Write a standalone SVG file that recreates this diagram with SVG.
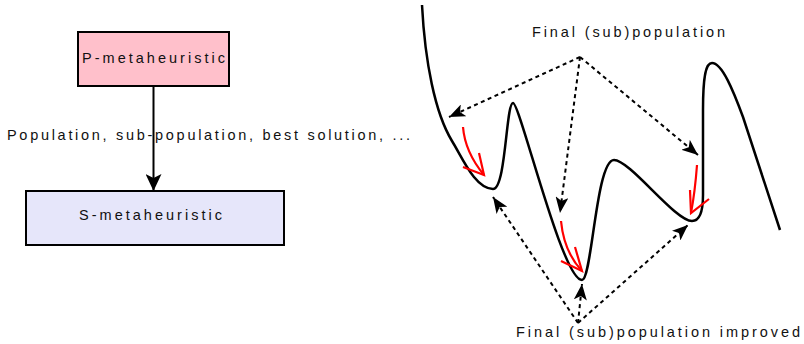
<svg xmlns="http://www.w3.org/2000/svg" width="804" height="344" viewBox="0 0 804 344">
<defs>
<style>
.box{stroke:#000;stroke-width:2}
.t{font-family:"Liberation Sans",Arial,sans-serif;font-size:14.5px;fill:#111}
.dash{fill:none;stroke:#000;stroke-width:2;stroke-dasharray:4 3.5;marker-end:url(#ah)}
.red{fill:none;stroke:#f00;stroke-width:2.2}
.land{fill:none;stroke:#000;stroke-width:2.5;stroke-linejoin:round}
</style>
<marker id="ah" viewBox="0 0 16 13" refX="16" refY="6.5" markerWidth="16" markerHeight="13" markerUnits="userSpaceOnUse" orient="auto">
<path d="M0,0 L16,6.5 L0,13 L4,6.5 Z" fill="#000"/>
</marker>
<marker id="ahs" viewBox="0 0 17 16" refX="17" refY="8" markerWidth="17" markerHeight="16" markerUnits="userSpaceOnUse" orient="auto">
<path d="M0,0 L17,8 L0,16 L4,8 Z" fill="#000"/>
</marker>
</defs>
<rect width="804" height="344" fill="#fff"/>
<g id="p-meta">
<rect class="box" x="78" y="32" width="151" height="54" fill="#FFC0CB"/>
<text class="t" x="82" y="62.5" textLength="143" lengthAdjust="spacing">P-metaheuristic</text>
</g>
<g id="s-meta">
<rect class="box" x="26" y="191" width="258" height="54" fill="#E6E6FA"/>
<text class="t" x="79" y="220" textLength="143" lengthAdjust="spacing">S-metaheuristic</text>
</g>
<g id="connectors">
<line x1="153.5" y1="86" x2="153.5" y2="191" stroke="#000" stroke-width="2" marker-end="url(#ahs)"/>
<text class="t" x="7" y="140" textLength="403" lengthAdjust="spacing">Population, sub-population, best solution, ...</text>
</g>
<g id="landscape">
<path class="land" d="M422,5 C425,62 435,113 452,141 C462,157 475,189 493,189 C506,189 506,103 513,103 C520,103 562,280 582,280 C592,280 596,160 614,160 C630,160 675,221 692,221 C700,221 703,212 703,195 L703,110 C703,75 706,63 712,63 C722,63 733,90 743,117 L780,230"/>
</g>
<g id="red-arrows">
<path class="red" d="M463,127 Q465,152 484,175"/>
<polyline class="red" points="463,167 484,175 479,153"/>
<path class="red" d="M561,221 Q564,252 582,271"/>
<polyline class="red" points="561,261 582,271 575,247"/>
<path class="red" d="M697,165 Q695,192 691,213"/>
<polyline class="red" points="690,190 691,213 709,199"/>
</g>
<g id="final-pop">
<text class="t" x="532" y="36.5" textLength="193" lengthAdjust="spacing">Final (sub)population</text>
<path class="dash" d="M580,57 L449,117"/>
<path class="dash" d="M580,57 L560,213"/>
<path class="dash" d="M580,57 L698,155"/>
</g>
<g id="final-improved">
<text class="t" x="516" y="336.5" textLength="284" lengthAdjust="spacing">Final (sub)population improved</text>
<path class="dash" d="M578,323 L493,197"/>
<path class="dash" d="M578,323 L582,284"/>
<path class="dash" d="M578,323 L688,225"/>
</g>
</svg>
